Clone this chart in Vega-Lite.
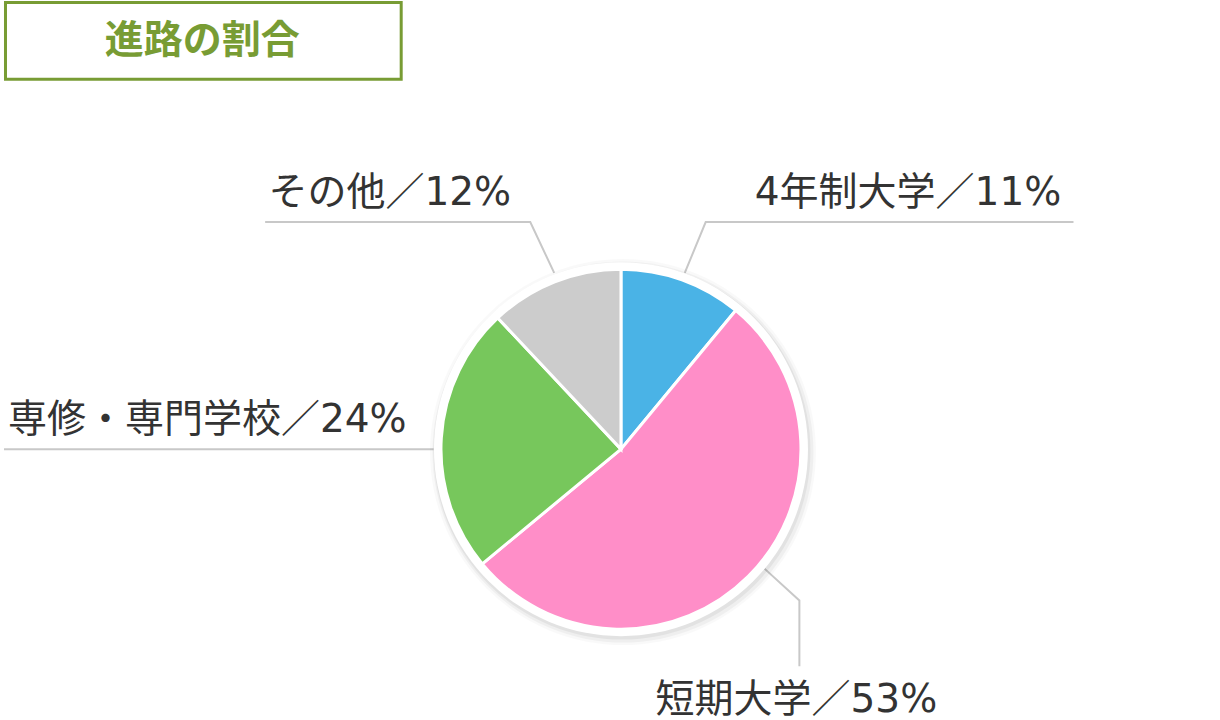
{
  "$schema": "https://vega.github.io/schema/vega-lite/v6.json",
  "width": 1220,
  "height": 720,
  "padding": 0,
  "autosize": {"type": "fit", "contains": "padding"},
  "background": "#ffffff",
  "config": {"view": {"stroke": null}},
  "datasets": {
    "slices": [
      {"category": "4年制大学", "value": 11, "order": 1},
      {"category": "短期大学", "value": 53, "order": 2},
      {"category": "専修・専門学校", "value": 24, "order": 3},
      {"category": "その他", "value": 12, "order": 4}
    ],
    "leaders": [
      {"category": "4年制大学", "pt": 1, "lx": 64, "ly": 177},
      {"category": "4年制大学", "pt": 2, "lx": 85, "ly": 228},
      {"category": "4年制大学", "pt": 3, "lx": 454, "ly": 228},
      {"category": "その他", "pt": 1, "lx": -67, "ly": 177},
      {"category": "その他", "pt": 2, "lx": -91, "ly": 228},
      {"category": "その他", "pt": 3, "lx": -357, "ly": 228},
      {"category": "短期大学", "pt": 1, "lx": 144, "ly": -120},
      {"category": "短期大学", "pt": 2, "lx": 179, "ly": -152},
      {"category": "短期大学", "pt": 3, "lx": 179, "ly": -218},
      {"category": "専修・専門学校", "pt": 1, "lx": -188, "ly": 0},
      {"category": "専修・専門学校", "pt": 2, "lx": -619, "ly": 0}
    ],
    "labels": [
      {"text": "4年制大学／11%", "tx": 288, "ty": 245},
      {"text": "その他／12%", "tx": -232, "ty": 245},
      {"text": "短期大学／53%", "tx": 176, "ty": -264},
      {"text": "専修・専門学校／24%", "tx": -415, "ty": 17}
    ],
    "titlebox": [
      {"title": "進路の割合", "bx": -617.5, "bx2": -220.5, "by": 448.5, "by2": 371.5, "cx": -420, "cy": 410}
    ],
    "center": [{"cx": 0, "cy": 0}]
  },
  "layer": [
    {
      "data": {"name": "titlebox"},
      "mark": {"type": "rect", "fill": "#ffffff", "stroke": "#789c34", "strokeWidth": 3},
      "encoding": {
        "x": {"field": "bx", "type": "quantitative", "scale": {"domain": [-619, 601], "nice": false, "zero": false}, "axis": null},
        "x2": {"field": "bx2"},
        "y": {"field": "by", "type": "quantitative", "scale": {"domain": [-270, 450], "nice": false, "zero": false}, "axis": null},
        "y2": {"field": "by2"}
      }
    },
    {
      "data": {"name": "titlebox"},
      "mark": {"type": "text", "font": "Noto Sans CJK JP", "fontWeight": "bold", "fontSize": 39, "color": "#789c34", "align": "center", "baseline": "middle"},
      "encoding": {
        "x": {"field": "cx", "type": "quantitative"},
        "y": {"field": "cy", "type": "quantitative"},
        "text": {"field": "title"}
      }
    },
    {
      "data": {"name": "leaders"},
      "mark": {"type": "line", "stroke": "#c8c8c8", "strokeWidth": 2},
      "encoding": {
        "x": {"field": "lx", "type": "quantitative"},
        "y": {"field": "ly", "type": "quantitative"},
        "detail": {"field": "category"},
        "order": {"field": "pt"}
      }
    },
    {
      "data": {"name": "center"},
      "mark": {"type": "arc", "theta": 0, "theta2": 6.2832, "outerRadius": 193, "fill": "#000000", "fillOpacity": 0.025},
      "encoding": {
        "x": {"datum": 2, "type": "quantitative"},
        "y": {"datum": -3, "type": "quantitative"}
      }
    },
    {
      "data": {"name": "center"},
      "mark": {"type": "arc", "theta": 0, "theta2": 6.2832, "outerRadius": 190.5, "fill": "#000000", "fillOpacity": 0.04},
      "encoding": {
        "x": {"datum": 2, "type": "quantitative"},
        "y": {"datum": -3, "type": "quantitative"}
      }
    },
    {
      "data": {"name": "center"},
      "mark": {"type": "arc", "theta": 0, "theta2": 6.2832, "outerRadius": 188.5, "fill": "#000000", "fillOpacity": 0.05},
      "encoding": {
        "x": {"datum": 1, "type": "quantitative"},
        "y": {"datum": -2, "type": "quantitative"}
      }
    },
    {
      "data": {"name": "center"},
      "mark": {"type": "arc", "theta": 0, "theta2": 6.2832, "outerRadius": 187, "fill": "#ffffff"},
      "encoding": {
        "x": {"datum": 0, "type": "quantitative"},
        "y": {"datum": 0, "type": "quantitative"}
      }
    },
    {
      "data": {"name": "slices"},
      "mark": {"type": "arc", "outerRadius": 180, "stroke": "#ffffff", "strokeWidth": 3},
      "encoding": {
        "x": {"datum": 0, "type": "quantitative"},
        "y": {"datum": 0, "type": "quantitative"},
        "theta": {"field": "value", "type": "quantitative", "stack": true},
        "order": {"field": "order", "type": "quantitative"},
        "color": {
          "field": "category",
          "type": "nominal",
          "scale": {"domain": ["4年制大学", "短期大学", "専修・専門学校", "その他"], "range": ["#4ab3e6", "#ff8ec8", "#77c75c", "#cccccc"]},
          "legend": null
        }
      }
    },
    {
      "data": {"name": "labels"},
      "mark": {"type": "text", "font": "DejaVu Sans, Noto Sans CJK JP", "fontSize": 39, "color": "#333333", "align": "center", "baseline": "alphabetic"},
      "encoding": {
        "x": {"field": "tx", "type": "quantitative"},
        "y": {"field": "ty", "type": "quantitative"},
        "text": {"field": "text"}
      }
    }
  ]
}
